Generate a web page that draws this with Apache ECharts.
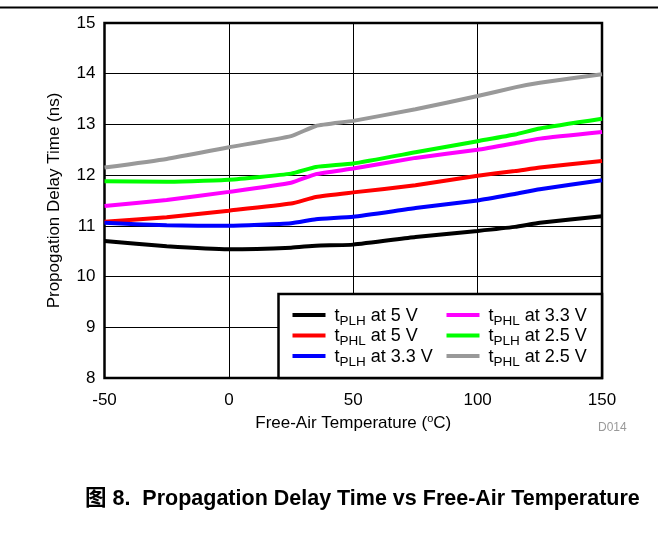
<!DOCTYPE html>
<html>
<head>
<meta charset="utf-8">
<script src="https://cdn.jsdelivr.net/npm/echarts@6/dist/echarts.min.js"></script>
<style>
  html, body { margin: 0; padding: 0; background: #fff; }
  #main { width: 658px; height: 539px; }
</style>
</head>
<body>
<div id="main"></div>
<script>
// temperatures (degC) where the curves were read
var temps = [-50, -25, 0, 25, 35, 50, 75, 100, 115, 125, 150];

// propagation delay (ns)
var tplh5  = [10.70, 10.60, 10.54, 10.57, 10.61, 10.63, 10.78, 10.90, 10.98, 11.06, 11.19];
var tphl5  = [11.08, 11.17, 11.30, 11.44, 11.57, 11.66, 11.80, 11.99, 12.08, 12.15, 12.28];
var tplh33 = [11.06, 11.01, 11.00, 11.05, 11.13, 11.18, 11.35, 11.50, 11.63, 11.72, 11.90];
var tphl33 = [11.39, 11.51, 11.67, 11.85, 12.02, 12.13, 12.34, 12.50, 12.63, 12.72, 12.85];
var tplh25 = [11.88, 11.87, 11.91, 12.03, 12.16, 12.23, 12.45, 12.67, 12.80, 12.92, 13.11];
var tphl25 = [12.15, 12.32, 12.55, 12.77, 12.97, 13.07, 13.30, 13.56, 13.73, 13.82, 13.99];

var names = ['tPLH at 5 V', 'tPHL at 5 V', 'tPLH at 3.3 V', 'tPHL at 3.3 V', 'tPLH at 2.5 V', 'tPHL at 2.5 V'];
var colors = ['#000000', '#ff0000', '#0000ff', '#ff00ff', '#00ff00', '#999999'];
var values = [tplh5, tphl5, tplh33, tphl33, tplh25, tphl25];

var FONT = '"Liberation Sans", Arial, "Noto Sans CJK SC", sans-serif';

var chart = echarts.init(document.getElementById('main'));

var series = [];
for (var i = 0; i < names.length; i++) {
  series.push({
    name: names[i],
    type: 'line',
    data: temps.map(function (t, k) { return [t, values[i][k]]; }),
    showSymbol: false,
    smooth: 0.15,
    color: colors[i],
    lineStyle: { color: colors[i], width: 4 },
    z: 2
  });
}

// legend text: "t" + subscript + rest
function legendFmt(n) {
  return '{t|t}{s|' + n.slice(1, 4) + '}{m|' + n.slice(4) + '}';
}
var legendRich = {
  t: { fontSize: 18, fontFamily: FONT, color: '#000', lineHeight: 20, verticalAlign: 'bottom', padding: [0, 0, 0, 4] },
  m: { fontSize: 18, fontFamily: FONT, color: '#000', lineHeight: 20, verticalAlign: 'bottom' },
  s: { fontSize: 13.5, fontFamily: FONT, color: '#000', lineHeight: 20, verticalAlign: 'bottom', padding: [0, 0, -3, 0] }
};

function makeLegend(left, data) {
  return {
    left: left,
    top: 307,
    orient: 'vertical',
    data: data,
    itemWidth: 33,
    itemHeight: 4,
    itemGap: -0.5,
    icon: 'rect',
    selectedMode: false,
    formatter: legendFmt,
    textStyle: { rich: legendRich, fontSize: 18, fontFamily: FONT },
    padding: 0,
    z: 10
  };
}

var option = {
  animation: false,
  backgroundColor: '#fff',
  grid: {
    left: 104.5, right: 56, top: 23, bottom: 161,
    show: true, borderColor: '#000', borderWidth: 2.5, backgroundColor: 'transparent'
  },
  xAxis: {
    type: 'value', min: -50, max: 150, interval: 50,
    axisLine: { show: false }, axisTick: { show: false },
    splitLine: { show: true, lineStyle: { color: '#000', width: 1 } },
    axisLabel: { fontSize: 17, fontFamily: FONT, color: '#000', margin: 14 },
    name: 'Free-Air Temperature ({sup|o}C)',
    nameLocation: 'middle', nameGap: 33,
    nameTextStyle: {
      fontSize: 17, fontFamily: FONT, color: '#000',
      rich: { sup: { fontSize: 11, fontFamily: FONT, color: '#000', verticalAlign: 'top', padding: [0, 0, 8, 0] } }
    }
  },
  yAxis: {
    type: 'value', min: 8, max: 15, interval: 1,
    axisLine: { show: false }, axisTick: { show: false },
    splitLine: { show: true, lineStyle: { color: '#000', width: 1 } },
    axisLabel: { fontSize: 17, fontFamily: FONT, color: '#000', margin: 9 },
    name: 'Propogation Delay Time (ns)',
    nameLocation: 'middle', nameGap: 42, nameRotate: 90,
    nameTextStyle: { fontSize: 17, fontFamily: FONT, color: '#000' }
  },
  legend: [
    makeLegend(292.5, names.slice(0, 3)),
    makeLegend(446.5, names.slice(3, 6))
  ],
  graphic: [
    { type: 'line', shape: { x1: 0, y1: 7.5, x2: 658, y2: 7.5 }, style: { stroke: '#000', lineWidth: 2 }, z: 1 },
    { type: 'rect', shape: { x: 278.5, y: 294, width: 323.5, height: 84 }, style: { fill: '#fff', stroke: '#000', lineWidth: 2.5 }, z: 5 },
    { type: 'text', left: 598, top: 422, style: { text: 'D014', fontSize: 12, fontFamily: FONT, fill: '#999' } },
    { type: 'text', left: 85, top: 488, style: { text: '图 8.  Propagation Delay Time vs Free-Air Temperature', fontSize: 21.5, fontWeight: 'bold', fontFamily: FONT, fill: '#000' } }
  ],
  series: series
};

chart.setOption(option);
</script>
</body>
</html>
